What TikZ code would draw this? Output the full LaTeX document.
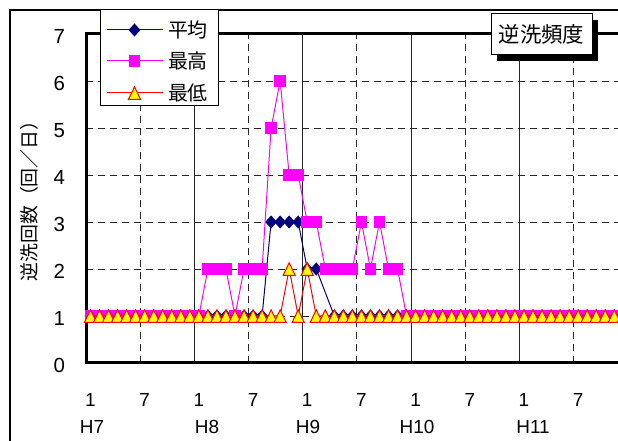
\documentclass[tikz,border=0pt]{standalone}
\usepackage{fontspec}
\setmainfont{Liberation Sans}
\newfontfamily\jpfont{Noto Sans CJK JP}
\usetikzlibrary{plotmarks,shadows}
\definecolor{avgblue}{RGB}{0,0,128}
\definecolor{himag}{RGB}{255,0,255}
\definecolor{lored}{RGB}{255,0,0}
\definecolor{loyel}{RGB}{255,255,0}

% monthly values, H7/1 ... H11/12
\def\avgval{{1,1,1,1,1,1,1,1,1,1,1,1,%
1,1,1,1,1,1,1,1,3,3,3,3,%
2,2,1.5,1,1,1,1,1,1,1,1,1,%
1,1,1,1,1,1,1,1,1,1,1,1,%
1,1,1,1,1,1,1,1,1,1,1,1}}
\def\hival{{1,1,1,1,1,1,1,1,1,1,1,1,%
1,2,2,2,1,2,2,2,5,6,4,4,%
3,3,2,2,2,2,3,2,3,2,2,1,%
1,1,1,1,1,1,1,1,1,1,1,1,%
1,1,1,1,1,1,1,1,1,1,1,1}}
\def\loval{{1,1,1,1,1,1,1,1,1,1,1,1,%
1,1,1,1,1,1,1,1,1,1,2,1,%
2,1,1,1,1,1,1,1,1,1,1,1,%
1,1,1,1,1,1,1,1,1,1,1,1,%
1,1,1,1,1,1,1,1,1,1,1,1}}

\begin{document}
\begin{tikzpicture}
[x=1bp,y=1bp,
 every node/.style={inner sep=0pt,outer sep=0pt},
 numlab/.style={font=\fontsize{19}{19}\selectfont},
 ylab/.style={numlab,anchor=east,font=\fontsize{20.5}{20.5}\selectfont},
 jplab/.style={font=\jpfont\fontsize{20}{20}\selectfont},
 grid/.style={line width=0.9bp,black!85},
 dgrid/.style={grid,dash pattern=on 7bp off 5bp},
 frame/.style={line width=3bp,black},
 avg/.style={draw=avgblue,line width=1bp,mark=diamond*,mark size=5.8bp,mark options={fill=avgblue,xscale=1.2}},
 hi/.style={draw=himag,line width=1bp,mark=square*,mark size=5.3bp,mark options={fill=himag}},
 lo/.style={draw=lored,line width=1bp,mark=triangle*,mark size=7bp,mark options={fill=loyel,yshift=-2.2bp,yscale=1.2}},
 legbox/.style={draw,fill=white,line width=1bp,minimum width=118bp,minimum height=96bp,anchor=north west},
 titlebox/.style={draw,fill=white,line width=1bp,minimum width=101bp,minimum height=41bp,
   font=\jpfont\fontsize{21.5}{22}\selectfont,
   drop shadow={shadow xshift=6bp,shadow yshift=-6bp,fill=black,opacity=1}}]
\useasboundingbox (0,0) rectangle (618,441);
\draw[line width=1.2bp] (10,-10) |- (640,431);

\begin{scope}[shift={(86,78)},x=9.03bp,y=47bp]
\foreach \v in {1,...,6} \draw[dgrid] (0,\v) -- (60,\v);
\foreach \k in {6,18,...,54} \draw[dgrid] (\k,0) -- (\k,7);
\foreach \k in {12,24,...,48} \draw[grid] (\k,0) -- (\k,7);
\draw[frame] (0,0) rectangle (60,7);
\draw[avg] plot[samples at={0,...,25,27,28,...,59}] (\x+0.5,{\avgval[int(\x)]});
\draw[hi]  plot[samples at={0,...,59}] (\x+0.5,{\hival[int(\x)]});
\draw[lo]  plot[samples at={0,...,59}] (\x+0.5,{\loval[int(\x)]});
\end{scope}

\foreach \v in {0,...,7} \node[ylab] (yl\v) at (65,78+47*\v-2.5) {\v};
\foreach \i in {0,6,...,54}{
  \pgfmathtruncatemacro\m{mod(\i,12)+1}
  \node[numlab] (xl\i) at (90.5+9.03*\i,41) {\m};
}
\foreach \h/\px in {7/92,8/207,9/308,10/417,11/533} \node[numlab] (yr\h) at (\px,14) {H\h};
\node[jplab,rotate=90,font=\jpfont\fontsize{19}{19}\selectfont] (ytitle) at (29,244.5) {逆洗回数（回／日）};

\node[legbox] (legend) at (100,431) {};
\foreach \s/\n/\y/\t in {avg/1/411/平均,hi/2/380/最高,lo/3/348/最低}{
  \draw[\s] (107,\y) -- (163,\y) plot coordinates {(134.5,\y)};
  \node[jplab,anchor=west] (leg\n) at (168,\y) {\t};
}

\node[titlebox] (title) at (541.5,406.5) {逆洗頻度};
\end{tikzpicture}
\end{document}
